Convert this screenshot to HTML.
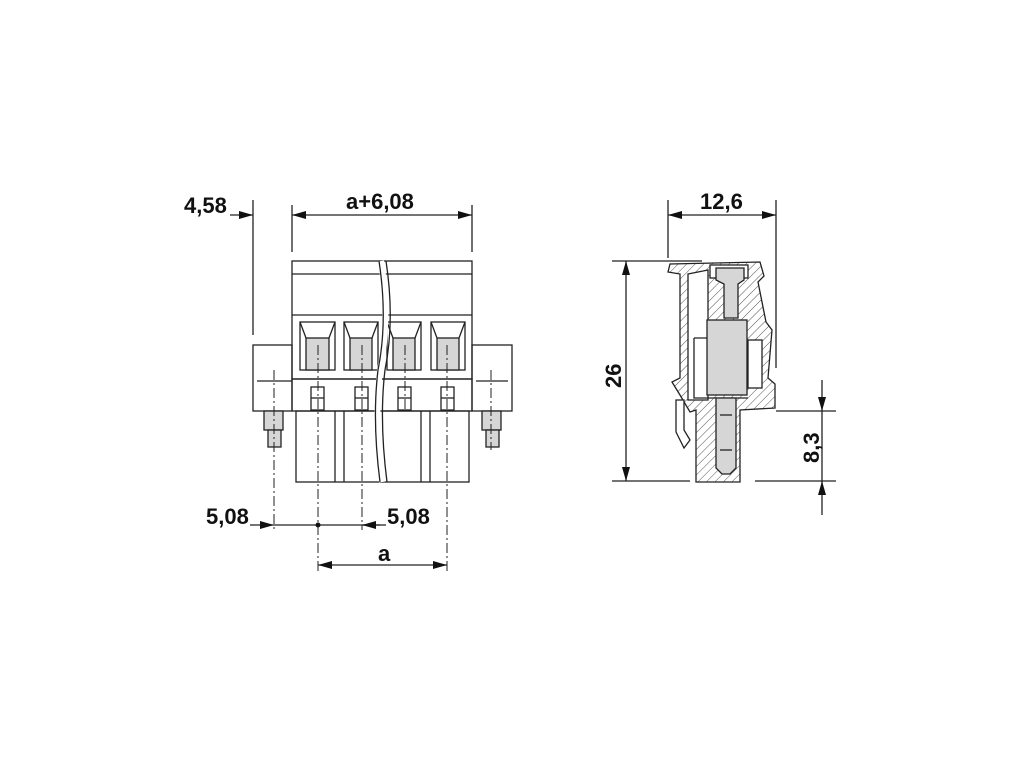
<!DOCTYPE html>
<html><head><style>body{margin:0;background:#fff}svg{display:block}text{font-family:"Liberation Sans",sans-serif;font-weight:bold;font-size:22px;fill:#111}</style></head><body>
<svg width="1020" height="765" viewBox="0 0 1020 765" xmlns="http://www.w3.org/2000/svg">
<defs>
<marker id="a" markerWidth="14" markerHeight="8" refX="14" refY="4" orient="auto" markerUnits="userSpaceOnUse"><path d="M0,0L14,4L0,8z" fill="#111"/></marker>
<pattern id="h" width="6" height="6" patternUnits="userSpaceOnUse" patternTransform="rotate(45)"><rect width="6" height="6" fill="#fff"/><line x1="0" y1="0" x2="0" y2="6" stroke="#555" stroke-width="1"/></pattern>
</defs>
<g stroke="#222" stroke-width="1.3" fill="none">
<rect x="292" y="261" width="180" height="118" fill="#fff"/>
<line x1="292" y1="274" x2="472" y2="274"/><line x1="292" y1="315" x2="472" y2="315"/>
<rect x="292" y="379" width="180" height="32"/>
<rect x="296" y="411" width="173" height="71"/>
<line x1="335" y1="411" x2="335" y2="482"/><line x1="344" y1="411" x2="344" y2="482"/><line x1="421" y1="411" x2="421" y2="482"/><line x1="430" y1="411" x2="430" y2="482"/>
<g fill="#d6d6d6">
<rect x="300" y="322" width="35" height="48" fill="#fff"/><rect x="306" y="338" width="23" height="32"/><path d="M300,322 L306,338 M335,322 L329,338"/>
<rect x="344" y="322" width="34" height="48" fill="#fff"/><rect x="350" y="338" width="22" height="32"/><path d="M344,322 L350,338 M378,322 L372,338"/>
<rect x="387" y="322" width="34" height="48" fill="#fff"/><rect x="393" y="338" width="22" height="32"/><path d="M387,322 L393,338 M421,322 L415,338"/>
<rect x="431" y="322" width="34" height="48" fill="#fff"/><rect x="437" y="338" width="22" height="32"/><path d="M431,322 L437,338 M465,322 L459,338"/>
</g>
<g><rect x="311" y="387" width="13" height="23"/><rect x="355" y="387" width="13" height="23"/><rect x="398" y="387" width="13" height="23"/><rect x="441" y="387" width="13" height="23"/>
<line x1="311" y1="398" x2="324" y2="398"/><line x1="355" y1="398" x2="368" y2="398"/><line x1="398" y1="398" x2="411" y2="398"/><line x1="441" y1="398" x2="454" y2="398"/></g>
<rect x="253" y="345" width="39" height="66"/><rect x="472" y="345" width="40" height="66"/>
<line x1="257" y1="381" x2="292" y2="381"/><line x1="476" y1="381" x2="508" y2="381"/>
<rect x="264" y="411" width="19" height="19" fill="#d6d6d6"/><rect x="268" y="430" width="13" height="17" fill="#d6d6d6"/>
<rect x="482" y="411" width="19" height="19" fill="#d6d6d6"/><rect x="486" y="430" width="13" height="17" fill="#d6d6d6"/>
<path d="M381,261 Q390,320 380,370 Q374,420 382,482" stroke="#fff" stroke-width="6"/>
<path d="M379,261 Q388,320 378,370 Q372,420 380,482 M386,261 Q395,320 385,370 Q379,420 387,482"/>
<g stroke-dasharray="10,3,2,3" stroke-width="1"><line x1="274" y1="370" x2="274" y2="530"/><line x1="318" y1="345" x2="318" y2="572"/><line x1="362" y1="345" x2="362" y2="530"/><line x1="405" y1="345" x2="405" y2="410"/><line x1="447" y1="345" x2="447" y2="572"/><line x1="491" y1="370" x2="491" y2="450"/></g>
<line x1="253" y1="200" x2="253" y2="335"/><line x1="292" y1="205" x2="292" y2="252"/><line x1="472" y1="205" x2="472" y2="252"/>
<line x1="230" y1="215" x2="253" y2="215" marker-end="url(#a)"/>
<line x1="380" y1="215" x2="292" y2="215" marker-end="url(#a)"/><line x1="380" y1="215" x2="472" y2="215" marker-end="url(#a)"/>
<line x1="250" y1="525" x2="274" y2="525" marker-end="url(#a)"/><line x1="274" y1="525" x2="380" y2="525"/>
<line x1="386" y1="525" x2="362" y2="525" marker-end="url(#a)"/>
<line x1="380" y1="565" x2="318" y2="565" marker-end="url(#a)"/><line x1="380" y1="565" x2="447" y2="565" marker-end="url(#a)"/>
<path d="M670,264 L760,262 L764,276 L758,282 L766,322 L772,330 L768,378 L775,384 L775,408 L740,410 L740,482 L696,482 L696,410 L690,412 L680,395 L672,382 L680,378 L680,274 L668,272 Z" fill="url(#h)"/>
<path d="M688,274 L708,270 L708,400 L688,400 Z" fill="#fff"/>
<rect x="710" y="265" width="38" height="13" fill="#fff"/>
<path d="M716,268 h28 v12 l-6,4 v34 h-14 v-34 l-8,-4 z" fill="#d6d6d6"/>
<rect x="707" y="320" width="40" height="75" fill="#d6d6d6"/>
<path d="M694,338 h13 M694,338 v60 h54"/>
<path d="M716,398 h20 v70 l-6,6 h-8 l-6,-6 z" fill="#d6d6d6"/>
<line x1="720" y1="415" x2="732" y2="415"/><line x1="720" y1="450" x2="732" y2="450"/>
<path d="M676,400 L684,400 L684,430 L690,440 L684,448 L676,432 Z" fill="#fff"/>
<rect x="748" y="340" width="14" height="48" fill="#fff"/>
<line x1="668" y1="200" x2="668" y2="258"/><line x1="776" y1="200" x2="776" y2="368"/>
<line x1="722" y1="215" x2="668" y2="215" marker-end="url(#a)"/><line x1="722" y1="215" x2="776" y2="215" marker-end="url(#a)"/>
<line x1="612" y1="261" x2="702" y2="261"/><line x1="612" y1="481" x2="690" y2="481"/>
<line x1="626" y1="370" x2="626" y2="261" marker-end="url(#a)"/><line x1="626" y1="370" x2="626" y2="481" marker-end="url(#a)"/>
<line x1="776" y1="411" x2="836" y2="411"/><line x1="755" y1="481" x2="836" y2="481"/>
<line x1="822" y1="380" x2="822" y2="411" marker-end="url(#a)"/><line x1="822" y1="515" x2="822" y2="481" marker-end="url(#a)"/>
<line x1="822" y1="411" x2="822" y2="481"/>
</g>
<circle cx="318" cy="525" r="2.5" fill="#111"/>
<text x="184" y="213">4,58</text>
<text x="346" y="209">a+6,08</text>
<text x="206" y="524">5,08</text>
<text x="387" y="524">5,08</text>
<text x="378" y="561">a</text>
<text x="700" y="209">12,6</text>
<text transform="translate(621,388) rotate(-90)">26</text>
<text transform="translate(819,463) rotate(-90)">8,3</text>
</svg>
</body></html>
